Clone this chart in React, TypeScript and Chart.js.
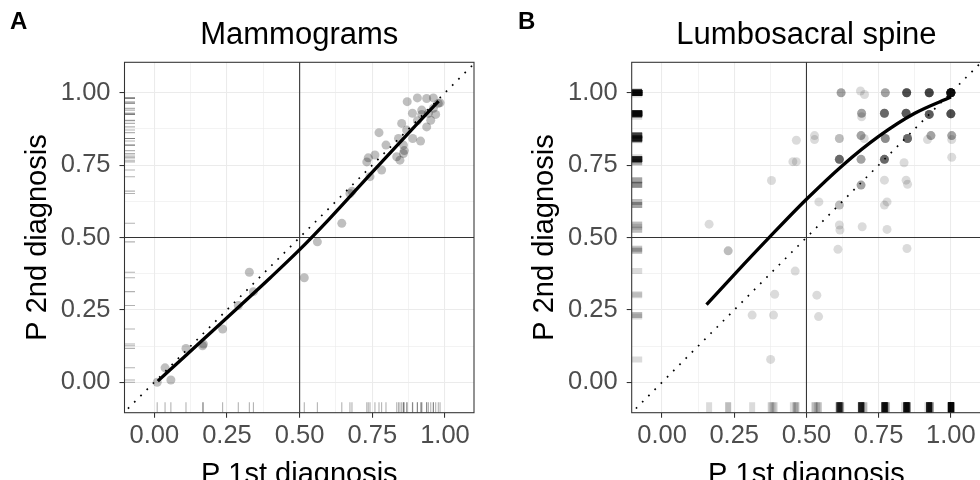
import React, { useEffect, useRef } from 'react';
import { Chart, registerables } from 'chart.js';
Chart.register(...registerables);

const FONT = "'Liberation Sans', Arial, Helvetica, sans-serif";

// axis ticks
const tickValues = [0, 0.25, 0.5, 0.75, 1];
const tickLabels = ['0.00', '0.25', '0.50', '0.75', '1.00'];
const minorValues = [0.125, 0.375, 0.625, 0.875];

// Panel A: Mammograms (P 1st diagnosis, P 2nd diagnosis) per reader
const mammoX = [0.010, 0.037, 0.057, 0.109, 0.166, 0.169, 0.235, 0.289, 0.327, 0.341, 0.516, 0.561, 0.645, 0.673, 0.680, 0.731, 0.736, 0.742, 0.759, 0.773, 0.782, 0.797, 0.834, 0.840, 0.845, 0.851, 0.857, 0.857, 0.860, 0.868, 0.870, 0.888, 0.889, 0.905, 0.905, 0.916, 0.920, 0.920, 0.937, 0.937, 0.943, 0.951, 0.960, 0.960, 0.968, 0.977, 0.983];
const mammoY = [0.000, 0.050, 0.008, 0.117, 0.126, 0.132, 0.184, 0.265, 0.380, 0.313, 0.361, 0.485, 0.549, 0.652, 0.660, 0.761, 0.775, 0.710, 0.785, 0.862, 0.733, 0.819, 0.779, 0.842, 0.767, 0.894, 0.819, 0.790, 0.800, 0.871, 0.969, 0.929, 0.842, 0.982, 0.903, 0.833, 0.940, 0.925, 0.980, 0.882, 0.929, 0.905, 0.982, 0.946, 0.925, 0.963, 0.965];
// fitted curve A
const mammoFitX = [0.012, 0.1, 0.25, 0.4, 0.5, 0.6, 0.75, 0.9, 0.978];
const mammoFitY = [0.004, 0.085, 0.223, 0.362, 0.458, 0.562, 0.726, 0.888, 0.971];

// Panel B: Lumbosacral spine (grouped observations with counts)
const spineX = [0.620, 0.687, 0.701, 0.773, 0.847, 0.925, 1.000,
  0.691, 0.691, 0.770, 0.845, 0.925, 1.000,
  0.465, 0.528, 0.528, 0.614, 0.689, 0.700, 0.773, 0.850, 0.931, 0.919, 1.003, 1.003,
  0.453, 0.465, 0.614, 0.689, 0.770, 0.838, 1.003,
  0.379, 0.689, 0.770, 0.845, 0.850,
  0.543, 0.614, 0.770, 0.779,
  0.163, 0.614, 0.616, 0.693, 0.779,
  0.229, 0.609, 0.848,
  0.461,
  0.390, 0.536,
  0.312, 0.386, 0.542,
  0.376];
const spineY = [1.000, 1.006, 0.994, 1.000, 1.000, 1.000, 1.000,
  0.929, 0.917, 0.929, 0.929, 0.925, 0.927,
  0.836, 0.852, 0.838, 0.842, 0.852, 0.842, 0.842, 0.842, 0.852, 0.838, 0.852, 0.838,
  0.762, 0.762, 0.770, 0.770, 0.770, 0.758, 0.777,
  0.697, 0.681, 0.698, 0.698, 0.684,
  0.623, 0.612, 0.612, 0.623,
  0.546, 0.543, 0.526, 0.537, 0.528,
  0.454, 0.459, 0.462,
  0.384,
  0.304, 0.301,
  0.232, 0.232, 0.227,
  0.079];
const spineN = [3, 1, 1, 3, 8, 9, 20,
  3, 1, 6, 7, 7, 8,
  1, 1, 1, 2, 3, 1, 4, 6, 3, 1, 3, 1,
  1, 1, 6, 3, 6, 1, 1,
  1, 3, 1, 1, 1,
  1, 2, 1, 1,
  1, 1, 1, 1, 1,
  2, 1, 1,
  1,
  1, 1,
  1, 1, 1,
  1];
// fitted curve B
const spineFitX = [0.154, 0.25, 0.373, 0.5, 0.625, 0.75, 0.875, 1.0];
const spineFitY = [0.268, 0.372, 0.502, 0.632, 0.749, 0.849, 0.929, 0.985];

// reference lines
const refValue = 0.5;

const allGrid = [...tickValues, ...minorValues].sort((a, b) => a - b);
const isMajor = (v: number) => tickValues.some((t) => Math.abs(t - v) < 1e-9);
const labelFor = (v: number) => {
  const i = tickValues.findIndex((t) => Math.abs(t - v) < 1e-9);
  return i >= 0 ? tickLabels[i] : '';
};

function makeRugPlugin(xs: number[], ys: number[], ns: number[] | null, color: string, width: number, len: number) {
  return {
    id: 'rug',
    beforeDatasetsDraw(chart: any) {
      const { ctx, chartArea: a, scales } = chart;
      const sx = scales.x, sy = scales.y;
      ctx.save();
      ctx.beginPath();
      ctx.rect(a.left, a.top, a.right - a.left, a.bottom - a.top);
      ctx.clip();
      ctx.strokeStyle = color;
      ctx.lineWidth = width;
      ctx.lineCap = 'butt';
      for (let i = 0; i < xs.length; i++) {
        const n = ns ? ns[i] : 1;
        const px = sx.getPixelForValue(xs[i]);
        const py = sy.getPixelForValue(ys[i]);
        for (let k = 0; k < n; k++) {
          ctx.beginPath();
          ctx.moveTo(px, a.bottom);
          ctx.lineTo(px, a.bottom - len);
          ctx.stroke();
          ctx.beginPath();
          ctx.moveTo(a.left, py);
          ctx.lineTo(a.left + len, py);
          ctx.stroke();
        }
      }
      ctx.restore();
    },
  };
}

function makeFramePlugin(tag: string, tagX: number) {
  return {
    id: 'frame',
    afterDraw(chart: any) {
      const { ctx, chartArea: a } = chart;
      ctx.save();
      ctx.strokeStyle = '#333333';
      ctx.lineWidth = 1.07;
      ctx.strokeRect(a.left, a.top, a.right - a.left, a.bottom - a.top);
      ctx.fillStyle = '#000000';
      ctx.font = `bold 24px ${FONT}`;
      ctx.textBaseline = 'middle';
      ctx.textAlign = 'left';
      ctx.fillText(tag, tagX, 22.5);
      ctx.restore();
    },
  };
}

interface PanelSpec {
  title: string;
  tag: string;
  tagX: number;
  xMin: number; xMax: number;
  yMin: number; yMax: number;
  yAxisWidth: number;
  yTitlePad: number;
  rightPad: number;
  points: { x: number; y: number }[];
  pointColor: string;
  fit: { x: number; y: number }[];
  rug: any;
}

function makeScale(spec: PanelSpec, isX: boolean) {
  return {
    type: 'linear' as const,
    position: isX ? 'bottom' : 'left',
    min: isX ? spec.xMin : spec.yMin,
    max: isX ? spec.xMax : spec.yMax,
    afterBuildTicks: (s: any) => { s.ticks = allGrid.map((v) => ({ value: v })); },
    afterFit: (s: any) => {
      if (isX) s.height = 67.3; else s.width = spec.yAxisWidth;
    },
    ticks: {
      autoSkip: false,
      maxRotation: 0,
      minRotation: 0,
      padding: isX ? 3 : 9,
      color: '#4D4D4D',
      font: { family: FONT, size: 25.5 },
      callback: (v: any) => labelFor(Number(v)),
    },
    grid: {
      color: '#EBEBEB',
      lineWidth: (c: any) => (c.tick && isMajor(c.tick.value) ? 1.07 : 0.6),
      drawTicks: true,
      tickLength: 5,
      tickWidth: 1.07,
      tickColor: (c: any) => (c.tick && isMajor(c.tick.value) ? '#333333' : 'rgba(0,0,0,0)'),
    },
    border: { display: false },
    title: {
      display: true,
      text: isX ? 'P 1st diagnosis' : 'P 2nd diagnosis',
      color: '#000000',
      font: { family: FONT, size: 29 },
      padding: isX ? { top: 0, bottom: -12.8 } : { top: spec.yTitlePad, bottom: 0 },
    },
  };
}

function buildConfig(spec: PanelSpec): any {
  const lo = Math.min(spec.xMin, spec.yMin) - 0.05;
  const hi = Math.max(spec.xMax, spec.yMax) + 0.05;
  return {
    type: 'scatter',
    data: {
      datasets: [
        {
          label: 'fit',
          data: spec.fit,
          showLine: true,
          borderColor: '#000000',
          borderWidth: 3.3,
          pointRadius: 0,
          cubicInterpolationMode: 'monotone',
          borderCapStyle: 'butt',
        },
        {
          label: 'identity',
          data: [{ x: lo, y: lo }, { x: hi, y: hi }],
          showLine: true,
          borderColor: '#000000',
          borderWidth: 1.7,
          borderDash: [1.7, 7.1],
          pointRadius: 0,
        },
        {
          label: 'vline',
          data: [{ x: refValue, y: lo }, { x: refValue, y: hi }],
          showLine: true,
          borderColor: '#333333',
          borderWidth: 1.07,
          pointRadius: 0,
        },
        {
          label: 'hline',
          data: [{ x: lo, y: refValue }, { x: hi, y: refValue }],
          showLine: true,
          borderColor: '#333333',
          borderWidth: 1.07,
          pointRadius: 0,
        },
        {
          label: 'readers',
          data: spec.points,
          pointRadius: 4.5,
          pointBorderWidth: 0,
          pointBackgroundColor: spec.pointColor,
          backgroundColor: spec.pointColor,
          borderColor: 'rgba(0,0,0,0)',
        },
      ],
    },
    options: {
      responsive: false,
      animation: false,
      devicePixelRatio: 1,
      layout: { padding: { left: 0, right: spec.rightPad, top: 0, bottom: 0 } },
      plugins: {
        legend: { display: false },
        tooltip: { enabled: false },
        title: {
          display: true,
          text: spec.title,
          fullSize: false,
          color: '#000000',
          font: { family: FONT, size: 31, weight: 'normal' },
          padding: { top: 16.4, bottom: 8.7 },
        },
      },
      scales: {
        x: makeScale(spec, true),
        y: makeScale(spec, false),
      },
    },
    plugins: [spec.rug, makeFramePlugin(spec.tag, spec.tagX)],
  };
}

const mammoPoints = mammoX.map((x, i) => ({ x, y: mammoY[i] }));
const mammoFit = mammoFitX.map((x, i) => ({ x, y: mammoFitY[i] }));
const spinePoints: { x: number; y: number }[] = [];
spineX.forEach((x, i) => {
  for (let k = 0; k < spineN[i]; k++) spinePoints.push({ x, y: spineY[i] });
});
const spineFit = spineFitX.map((x, i) => ({ x, y: spineFitY[i] }));

const specA: PanelSpec = {
  title: 'Mammograms', tag: 'A', tagX: 10,
  xMin: -0.1025, xMax: 1.0998, yMin: -0.105, yMax: 1.105,
  yAxisWidth: 124.5, yTitlePad: 20.9, rightPad: 16,
  points: mammoPoints, pointColor: 'rgba(0,0,0,0.25)', fit: mammoFit,
  rug: makeRugPlugin(mammoX, mammoY, null, 'rgba(0,0,0,0.3)', 1.1, 10.5),
};
const specB: PanelSpec = {
  title: 'Lumbosacral spine', tag: 'B', tagX: 28,
  xMin: -0.105, xMax: 1.105, yMin: -0.105, yMax: 1.105,
  yAxisWidth: 141.7, yTitlePad: 37.6, rightPad: 8.8,
  points: spinePoints, pointColor: 'rgba(0,0,0,0.14)', fit: spineFit,
  rug: makeRugPlugin(spineX, spineY, spineN, 'rgba(0,0,0,0.14)', 6, 10.5),
};

function Panel({ spec, left, width }: { spec: PanelSpec; left: number; width: number }) {
  const ref = useRef<HTMLCanvasElement>(null);
  useEffect(() => {
    const chart = new Chart(ref.current as HTMLCanvasElement, buildConfig(spec));
    return () => chart.destroy();
  }, []);
  return (
    <canvas
      ref={ref}
      width={width}
      height={480}
      style={{ position: 'absolute', left, top: 0, width, height: 480, display: 'block' }}
    />
  );
}

export default function App() {
  return (
    <div style={{ position: 'fixed', left: 0, top: 0, width: 980, height: 480, overflow: 'hidden', background: '#ffffff' }}>
      <Panel spec={specA} left={0} width={490} />
      <Panel spec={specB} left={490} width={500} />
    </div>
  );
}
